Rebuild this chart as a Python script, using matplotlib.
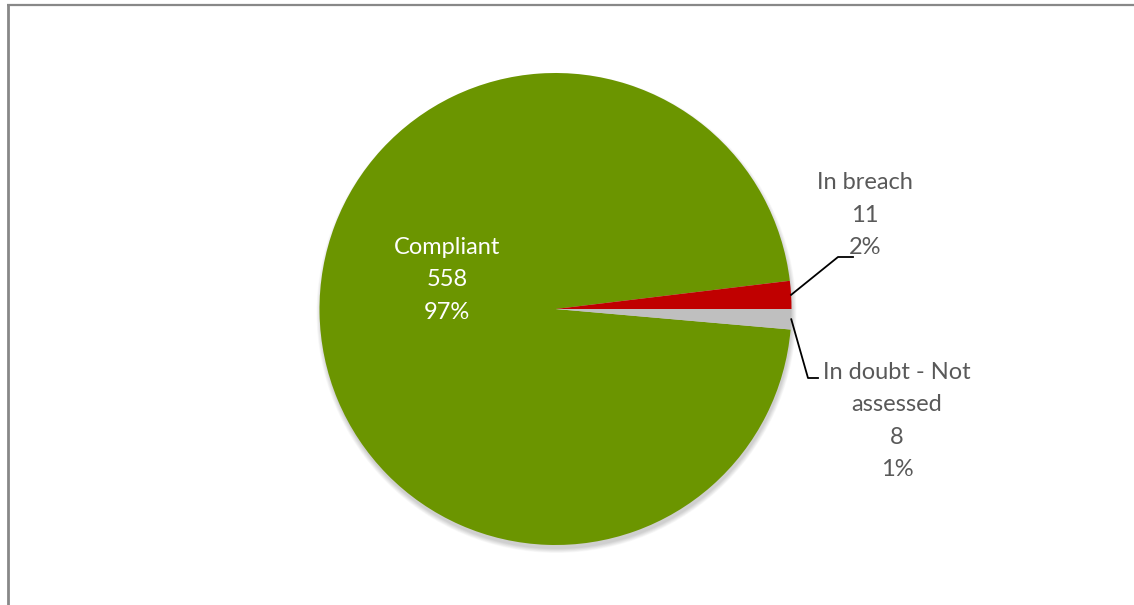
import matplotlib.pyplot as plt
from matplotlib.patches import Circle
import numpy as np

# compliance status counts
labels = ['Compliant', 'In breach', 'In doubt - Not\nassessed']
counts = [558, 11, 8]
colors = ['#6B9500', '#C00000', '#BFBFBF']

W, H = 1134, 605
fig = plt.figure(figsize=(W / 100, H / 100), dpi=100)
ax = fig.add_axes([0, 0, 1, 1])

plt.rcParams['font.family'] = ['Lato', 'DejaVu Sans']
txt_color = '#595959'

cx, cy, r = 555.5, H - 309, 236
total = sum(counts)
pct = [round(c / total * 100) for c in counts]

# rotate so the small slices sit just either side of 3 o'clock
start = 360 * (counts[1] + counts[0]) / total
wedges, _ = ax.pie(counts, colors=colors, center=(cx, cy), radius=r,
                   startangle=start, counterclock=False,
                   wedgeprops=dict(linewidth=0))
for w in wedges:
    w.set_zorder(2)

# soft shadow under the pie
for k in range(8):
    ax.add_patch(Circle((cx + 1, cy - 4), r + 4 - k * 0.6, color='#000000',
                        alpha=0.025, lw=0, zorder=0))

ax.set_xlim(0, W)
ax.set_ylim(0, H)
ax.set_aspect('equal')
ax.axis('off')

# frame lines on the left and top
ax.plot([7.5, 7.5], [0, H - 4.5], color='#888888', lw=2, solid_capstyle='butt')
ax.plot([7, W], [H - 4.5, H - 4.5], color='#888888', lw=1.6, solid_capstyle='butt')

fs = 17
ls = 1.66
ax.text(447, H - 280, f'{labels[0]}\n{counts[0]}\n{pct[0]}%', color='white',
        fontsize=fs, ha='center', va='center', linespacing=ls, zorder=3)


def edge_point(w):
    ang = np.deg2rad((w.theta1 + w.theta2) / 2)
    return cx + r * np.cos(ang), cy + r * np.sin(ang)


# In breach label with leader
x0, y0 = edge_point(wedges[1])
ax.plot([x0, 838, 853], [y0, H - 257, H - 257], color='black', lw=1.3, zorder=3)
ax.text(865, H - 215, f'{labels[1]}\n{counts[1]}\n{pct[1]}%', color=txt_color,
        fontsize=fs, ha='center', va='center', linespacing=ls)

# In doubt label with leader
x0, y0 = edge_point(wedges[2])
ax.plot([x0, 808, 818], [y0, H - 378, H - 378], color='black', lw=1.3, zorder=3)
ax.text(897, H - 421, f'{labels[2]}\n{counts[2]}\n{pct[2]}%', color=txt_color,
        fontsize=fs, ha='center', va='center', linespacing=ls)

fig.savefig('out.png', dpi=100)
